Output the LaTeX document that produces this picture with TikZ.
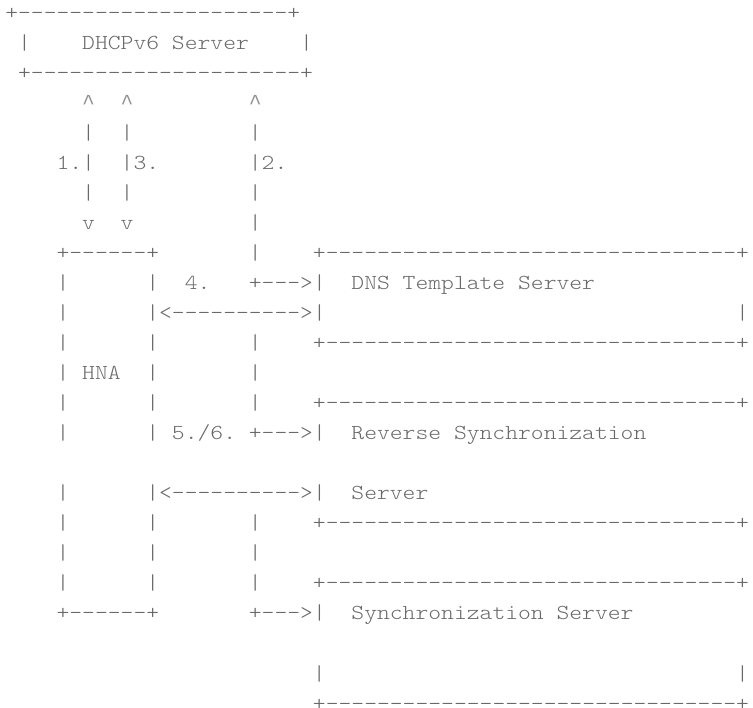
\documentclass[tikz,border=0pt]{standalone}
\usepackage{fontspec}
\setmonofont{lmmonolt10-regular.otf}[FakeStretch=1.1430]
\newfontfamily\caretfont{Liberation Mono}
\definecolor{asciigray}{RGB}{105,105,105}
\newcommand{\crt}{{\caretfont\char"5E}}
\newcommand{\dnsline}{+--------------------------------+}
\begin{document}
\begin{tikzpicture}[x=12.82pt,y=-30pt,
  asc/.style={anchor=base west, inner sep=0pt, outer sep=0pt,
    font=\ttfamily\fontsize{21.37pt}{30pt}\selectfont, text=asciigray},
  crtnode/.style={asc, text=asciigray!75}]
\useasboundingbox (-5.3pt,-10pt) rectangle (747.7pt,-718pt);
% DHCPv6 server box
\node[asc] (dhcpTop) at (0,1) {+---------------------+};
\node[asc] (dhcpL) at (1,2) {|};
\node[asc] (dhcp) at (6,2) {DHCPv6 Server};
\node[asc] (dhcpR) at (23,2) {|};
\node[asc] (dhcpBot) at (1,3) {+---------------------+};
% vertical message lines
\node[crtnode] (a1) at (6,4) {\crt};
\node[crtnode] (a3) at (9,4) {\crt};
\node[crtnode] (a2) at (19,4) {\crt};
\node[asc] (b1) at (6,5) {|};
\node[asc] (b3) at (9,5) {|};
\node[asc] (b2) at (19,5) {|};
\node[asc] (m1) at (4,6) {1.|};
\node[asc] (m3) at (9,6) {|3.};
\node[asc] (m2) at (19,6) {|2.};
\node[asc] (c1) at (6,7) {|};
\node[asc] (c3) at (9,7) {|};
\node[asc] (c2) at (19,7) {|};
\node[asc] (d1) at (6,8) {v};
\node[asc] (d3) at (9,8) {v};
\node[asc] (d2) at (19,8) {|};
% row 9
\node[asc] (hnaTop) at (4,9) {+------+};
\node[asc] (e2) at (19,9) {|};
\node[asc] (dnsTop) at (24,9) {\dnsline};
% row 10
\node[asc] (h10l) at (4,10) {|};
\node[asc] (h10r) at (11,10) {|};
\node[asc] (m4) at (14,10) {4.};
\node[asc] (arr10) at (19,10) {+--->|};
\node[asc] (dns) at (27,10) {DNS Template Server};
% row 11
\node[asc] (h11l) at (4,11) {|};
\node[asc] (bi11) at (11,11) {|<---------->|};
\node[asc] (dnsR) at (57,11) {|};
% row 12
\node[asc] (h12l) at (4,12) {|};
\node[asc] (h12r) at (11,12) {|};
\node[asc] (v12) at (19,12) {|};
\node[asc] (dnsBot) at (24,12) {\dnsline};
% row 13
\node[asc] (h13l) at (4,13) {|};
\node[asc] (hna) at (6,13) {HNA};
\node[asc] (h13r) at (11,13) {|};
\node[asc] (v13) at (19,13) {|};
% row 14
\node[asc] (h14l) at (4,14) {|};
\node[asc] (h14r) at (11,14) {|};
\node[asc] (v14) at (19,14) {|};
\node[asc] (rsTop) at (24,14) {\dnsline};
% row 15
\node[asc] (h15l) at (4,15) {|};
\node[asc] (h15r) at (11,15) {|};
\node[asc] (m56) at (13,15) {5./6.};
\node[asc] (arr15) at (19,15) {+--->|};
\node[asc] (rs1) at (27,15) {Reverse Synchronization};
% row 17
\node[asc] (h17l) at (4,17) {|};
\node[asc] (bi17) at (11,17) {|<---------->|};
\node[asc] (rs2) at (27,17) {Server};
% row 18
\node[asc] (h18l) at (4,18) {|};
\node[asc] (h18r) at (11,18) {|};
\node[asc] (v18) at (19,18) {|};
\node[asc] (rsBot) at (24,18) {\dnsline};
% row 19
\node[asc] (h19l) at (4,19) {|};
\node[asc] (h19r) at (11,19) {|};
\node[asc] (v19) at (19,19) {|};
% row 20
\node[asc] (h20l) at (4,20) {|};
\node[asc] (h20r) at (11,20) {|};
\node[asc] (v20) at (19,20) {|};
\node[asc] (ssTop) at (24,20) {\dnsline};
% row 21
\node[asc] (hnaBot) at (4,21) {+------+};
\node[asc] (arr21) at (19,21) {+--->|};
\node[asc] (ss) at (27,21) {Synchronization Server};
% row 23-24
\node[asc] (ssL) at (24,23) {|};
\node[asc] (ssR) at (57,23) {|};
\node[asc] (ssBot) at (24,24) {\dnsline};
\end{tikzpicture}
\end{document}
